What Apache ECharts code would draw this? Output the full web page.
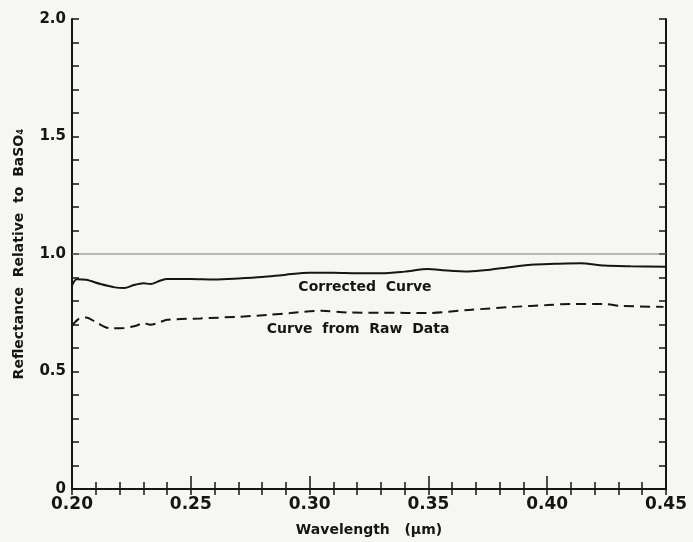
<!DOCTYPE html>
<html><head><meta charset="utf-8">
<script src="https://cdn.jsdelivr.net/npm/echarts@6/dist/echarts.min.js"></script>
<style>html,body{margin:0;padding:0;background:#f6f6f3;}#c{width:693px;height:542px;}</style>
</head><body><div id="c"></div>
<script>
// Data
const xTickValues = [0.20, 0.25, 0.30, 0.35, 0.40, 0.45];
const xTickLabels = ['0.20', '0.25', '0.30', '0.35', '0.40', '0.45'];
const yTickValues = [0, 0.5, 1.0, 1.5, 2.0];
const yTickLabels = ['0', '0.5', '1.0', '1.5', '2.0'];

const correctedX = [0.200,0.202,0.206,0.212,0.218,0.222,0.226,0.230,0.233,0.237,0.240,0.250,0.260,0.270,0.280,0.290,0.300,0.310,0.320,0.330,0.340,0.350,0.355,0.367,0.375,0.385,0.395,0.405,0.414,0.424,0.435,0.450];
const correctedY = [0.865,0.893,0.890,0.872,0.858,0.855,0.868,0.876,0.872,0.886,0.894,0.894,0.892,0.896,0.902,0.912,0.920,0.920,0.918,0.918,0.925,0.936,0.932,0.926,0.932,0.945,0.955,0.959,0.961,0.951,0.948,0.946];

const rawX = [0.200,0.203,0.206,0.210,0.216,0.222,0.227,0.230,0.233,0.237,0.240,0.254,0.270,0.283,0.292,0.305,0.316,0.330,0.350,0.367,0.386,0.400,0.410,0.424,0.431,0.449];
const rawY = [0.695,0.725,0.730,0.710,0.684,0.685,0.695,0.706,0.699,0.710,0.720,0.726,0.733,0.741,0.749,0.758,0.751,0.750,0.749,0.762,0.775,0.783,0.787,0.787,0.779,0.775];

const referenceX = [0.20, 0.45];
const referenceY = [1.0, 1.0];

const annotationText = ['Corrected  Curve', 'Curve  from  Raw  Data'];
const annotationX = [0.3233, 0.3204];
const annotationY = [0.859, 0.678];

function pairs(xs, ys) { return xs.map((x, i) => [x, ys[i]]); }
function lookup(vals, labels) {
  return v => { const i = vals.findIndex(t => Math.abs(t - v) < 1e-9); return i >= 0 ? labels[i] : ''; };
}

const ink = '#151515';
const font = 'DejaVu Sans';
const chart = echarts.init(document.getElementById('c'));

const xCommon = {
  type: 'value', min: 0.20, max: 0.45, interval: 0.05,
  axisLine: { show: true, lineStyle: { color: ink, width: 2 } },
  splitLine: { show: false }
};
const yCommon = {
  type: 'value', min: 0, max: 2, interval: 0.5,
  axisLine: { show: true, lineStyle: { color: ink, width: 2 } },
  splitLine: { show: false }
};

chart.setOption({
  backgroundColor: '#f6f6f3',
  animation: false,
  grid: { left: 72, right: 27, top: 19, bottom: 48, containLabel: false },
  xAxis: [
    Object.assign({}, xCommon, {
      position: 'bottom',
      name: 'Wavelength   (\u03bcm)', nameLocation: 'middle', nameGap: 34,
      nameTextStyle: { color: ink, fontFamily: font, fontWeight: 'bold', fontSize: 14 },
      axisTick: { show: true, inside: true, length: 13, lineStyle: { color: ink, width: 1.5 } },
      minorTick: { show: true, splitNumber: 5, length: 7, lineStyle: { color: ink, width: 1.5 } },
      axisLabel: { color: ink, fontFamily: font, fontWeight: 'bold', fontSize: 17, margin: 7,
        formatter: lookup(xTickValues, xTickLabels) }
    }),
    Object.assign({}, xCommon, {
      position: 'top',
      axisTick: { show: true, inside: true, length: 6, lineStyle: { color: ink, width: 1.5 } },
      minorTick: { show: true, splitNumber: 5, length: 6, lineStyle: { color: ink, width: 1.5 } },
      axisLabel: { show: false }
    })
  ],
  yAxis: [
    Object.assign({}, yCommon, {
      position: 'left',
      name: 'Reflectance  Relative  to  BaSO\u2084', nameLocation: 'middle', nameGap: 46,
      nameTextStyle: { color: ink, fontFamily: font, fontWeight: 'bold', fontSize: 14 },
      axisTick: { show: true, inside: true, length: 7, lineStyle: { color: ink, width: 1.5 } },
      minorTick: { show: true, splitNumber: 5, length: 7, lineStyle: { color: ink, width: 1.5 } },
      axisLabel: { color: ink, fontFamily: font, fontWeight: 'bold', fontSize: 15, margin: 6,
        formatter: lookup(yTickValues, yTickLabels) }
    }),
    Object.assign({}, yCommon, {
      position: 'right',
      axisTick: { show: true, inside: true, length: 7, lineStyle: { color: ink, width: 1.5 } },
      minorTick: { show: true, splitNumber: 5, length: 7, lineStyle: { color: ink, width: 1.5 } },
      axisLabel: { show: false }
    })
  ],
  series: [
    {
      type: 'line', data: pairs(referenceX, referenceY), showSymbol: false,
      lineStyle: { color: '#7a7a7a', width: 1.2 }, z: 1
    },
    {
      type: 'line', data: pairs(correctedX, correctedY), showSymbol: false, smooth: 0.3,
      lineStyle: { color: ink, width: 2 },
      markPoint: {
        symbol: 'circle', symbolSize: 0,
        label: { show: true, position: 'inside', color: ink, fontFamily: font, fontWeight: 'bold', fontSize: 14,
          formatter: p => p.name },
        data: [{ name: annotationText[0], coord: [annotationX[0], annotationY[0]] }]
      }
    },
    {
      type: 'line', data: pairs(rawX, rawY), showSymbol: false, smooth: 0.3,
      lineStyle: { color: ink, width: 2, type: [10, 6] },
      markPoint: {
        symbol: 'circle', symbolSize: 0,
        label: { show: true, position: 'inside', color: ink, fontFamily: font, fontWeight: 'bold', fontSize: 14,
          formatter: p => p.name },
        data: [{ name: annotationText[1], coord: [annotationX[1], annotationY[1]] }]
      }
    }
  ]
});
</script>
</body></html>
